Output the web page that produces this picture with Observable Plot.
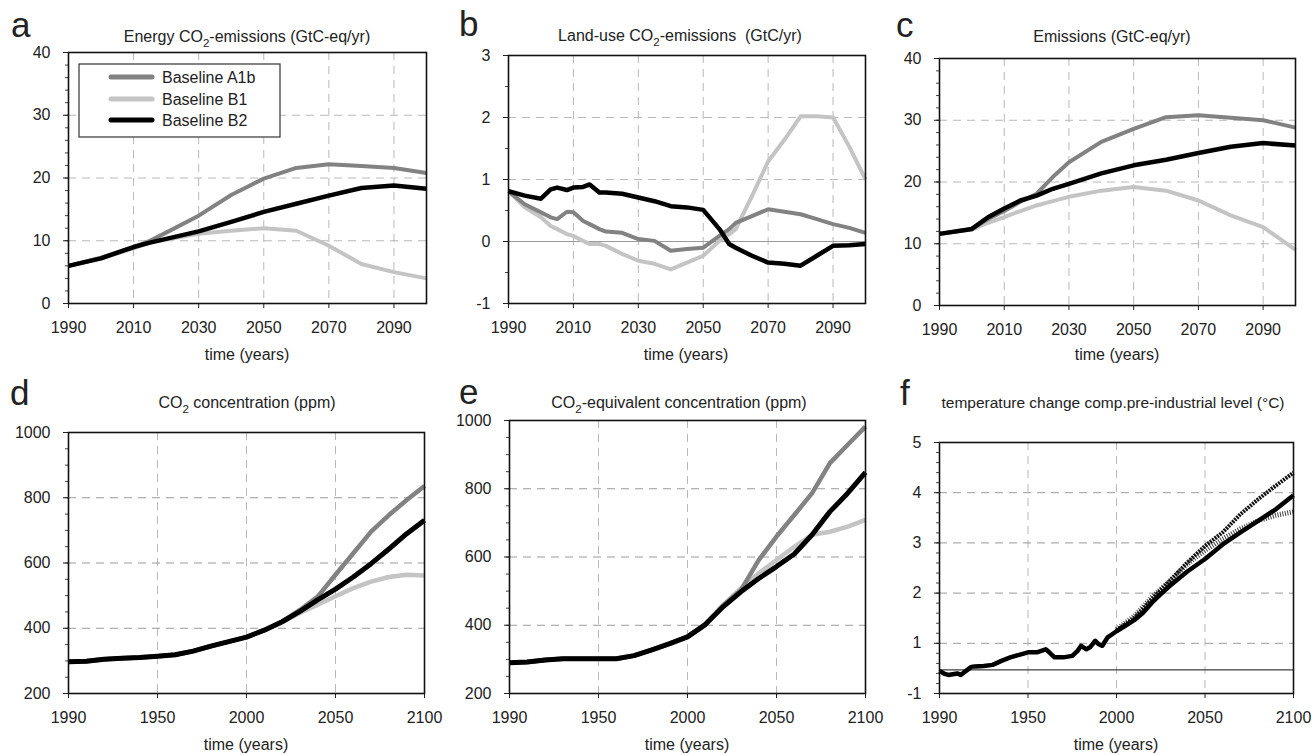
<!DOCTYPE html>
<html><head><meta charset="utf-8">
<script src="https://cdn.jsdelivr.net/npm/d3@7"></script>
<script src="https://cdn.jsdelivr.net/npm/@observablehq/plot@0.6"></script>
<style>
body{margin:0;background:#fff;}
#root{position:relative;width:1312px;height:755px;overflow:hidden;background:#fff;font-family:"Liberation Sans",Arial,sans-serif;}
#root svg.plot{position:absolute;}
#overlay{position:absolute;left:0;top:0;pointer-events:none;}
</style></head>
<body><div id="root"></div>
<script>
// ---------- data ----------
const seriesNames = ["Baseline A1b", "Baseline B1", "Baseline B2"];

// top-row x ticks
const xTicksTop = [1990, 2010, 2030, 2050, 2070, 2090];
const xLabelsTop = ["1990", "2010", "2030", "2050", "2070", "2090"];
// bottom-row x ticks (labels as printed)
const xTicksBottom = [1900, 1950, 2000, 2050, 2100];
const xLabelsBottom = ["1990", "1950", "2000", "2050", "2100"];

// panel a: Energy CO2 emissions
const yearsA = [1990, 2000, 2010, 2015, 2020, 2030, 2040, 2050, 2060, 2070, 2080, 2090, 2100];
const a_A1b = [6.0, 7.3, 9.0, 10.0, 11.3, 14.0, 17.3, 19.9, 21.6, 22.2, 21.9, 21.6, 20.8];
const a_B1  = [6.0, 7.2, 8.8, 9.7, 10.2, 11.1, 11.6, 12.0, 11.6, 9.2, 6.3, 5.0, 4.0];
const a_B2  = [6.0, 7.2, 9.0, 9.7, 10.3, 11.5, 13.0, 14.6, 15.9, 17.2, 18.4, 18.8, 18.3];
const yTicksA = [0, 10, 20, 30, 40];

// panel b: Land-use CO2 emissions
const yearsB = [1990,1995,2000,2003,2005,2008,2010,2013,2015,2018,2020,2025,2030,2035,2040,2045,2050,2055,2058,2060,2065,2070,2075,2080,2085,2090,2095,2100];
const b_A1b = [0.81,0.60,0.47,0.39,0.36,0.48,0.47,0.33,0.28,0.20,0.16,0.14,0.04,0.01,-0.15,-0.12,-0.10,0.09,0.20,0.30,0.41,0.52,0.48,0.44,0.36,0.28,0.22,0.14];
const b_B1  = [0.81,0.55,0.39,0.25,0.20,0.12,0.09,0.01,-0.04,-0.04,-0.07,-0.20,-0.31,-0.36,-0.45,-0.34,-0.23,0.01,0.12,0.20,0.73,1.29,1.64,2.02,2.02,2.00,1.53,1.00];
const b_B2  = [0.81,0.74,0.69,0.84,0.87,0.83,0.87,0.88,0.92,0.79,0.79,0.77,0.71,0.65,0.57,0.55,0.51,0.20,-0.04,-0.10,-0.23,-0.34,-0.36,-0.39,-0.23,-0.07,-0.06,-0.04];
const yTicksB = [-1, 0, 1, 2, 3];

// panel c: total emissions
const yearsC = [1990, 2000, 2005, 2010, 2015, 2020, 2025, 2030, 2040, 2050, 2060, 2070, 2080, 2090, 2100];
const c_A1b = [11.6, 12.4, 14.0, 15.3, 16.8, 18.1, 20.8, 23.2, 26.5, 28.6, 30.5, 30.8, 30.4, 30.0, 28.8];
const c_B1  = [11.6, 12.3, 13.4, 14.3, 15.3, 16.2, 16.9, 17.6, 18.6, 19.2, 18.6, 17.0, 14.6, 12.7, 9.0];
const c_B2  = [11.6, 12.4, 14.3, 15.7, 17.0, 17.8, 18.9, 19.7, 21.4, 22.7, 23.6, 24.7, 25.7, 26.3, 25.9];
const yTicksC = [0, 10, 20, 30, 40];

// panel d: CO2 concentration
const yearsD = [1900,1910,1920,1930,1940,1950,1960,1970,1980,1990,2000,2010,2020,2030,2040,2050,2060,2070,2080,2090,2100];
const d_A1b = [297,299,305,308,310,314,319,330,345,359,373,394,420,456,497,564,630,696,747,793,836];
const d_B1  = [297,299,305,308,310,314,319,330,345,359,373,394,418,447,472,498,523,543,557,564,562];
const d_B2  = [297,299,305,308,310,314,319,330,345,359,373,394,420,452,487,520,557,598,643,690,731];
const yTicksD = [200, 400, 600, 800, 1000];

// panel e: CO2-equivalent concentration
const yearsE = [1900,1910,1920,1930,1940,1950,1960,1970,1980,1990,2000,2010,2020,2030,2040,2050,2060,2070,2080,2090,2100];
const e_A1b = [290,292,298,302,302,302,302,311,328,346,366,402,458,503,591,660,723,787,875,929,982];
const e_B1  = [290,292,298,302,302,302,302,311,328,346,367,404,459,508,552,591,630,665,674,689,709];
const e_B2  = [290,292,298,302,302,302,302,311,328,346,366,402,454,498,537,572,609,665,733,787,848];
const yTicksE = [200, 400, 600, 800, 1000];

// panel f: temperature change (axis positions as printed)
const yearsF = [1900,1903,1905,1910,1912,1915,1918,1920,1925,1930,1935,1940,1945,1950,1955,1960,1962,1965,1970,1975,1978,1980,1983,1985,1988,1990,1992,1995,2000,2005,2010,2015,2020,2025,2030,2040,2050,2060,2070,2080,2090,2100];
const f_B2 = [0.45,0.39,0.37,0.40,0.37,0.45,0.53,0.54,0.55,0.57,0.65,0.72,0.77,0.82,0.82,0.88,0.82,0.72,0.72,0.75,0.85,0.95,0.88,0.92,1.05,0.98,0.95,1.12,1.24,1.35,1.46,1.61,1.81,1.98,2.14,2.43,2.68,2.97,3.21,3.44,3.67,3.95];
const yearsF2 = [2000, 2010, 2020, 2030, 2040, 2050, 2060, 2070, 2080, 2090, 2100];
const f_A1b = [1.26, 1.50, 1.88, 2.24, 2.61, 2.94, 3.21, 3.57, 3.87, 4.14, 4.40];
const f_B1  = [1.28, 1.54, 1.92, 2.24, 2.58, 2.85, 3.08, 3.28, 3.44, 3.55, 3.62];
const yTicksF = [0, 1, 2, 3, 4, 5];
const yLabelsF = ["-1", "1", "2", "3", "4", "5"];
const refLineF = [0.47];

// ---------- drawing ----------
const C_A1B = "#828282", C_B1 = "#c4c4c4", C_B2 = "#000000";
const root = document.getElementById("root");
const rows = (years, vals) => years.map((y, i) => ({year: y, value: vals[i]}));

function panel(cfg) {
  const mL = 70, mR = 24, mT = 14, mB = 44;
  const {x0, x1, y0, y1} = cfg;
  const w = (x1 - x0) + mL + mR, h = (y1 - y0) + mT + mB;
  const xl = new Map(cfg.xTicks.map((t, i) => [t, cfg.xLabels[i]]));
  const yl = new Map(cfg.yTicks.map((t, i) => [t, cfg.yLabels ? cfg.yLabels[i] : String(t)]));
  const gridY = cfg.yTicks.slice(1, -1).filter(t => !(cfg.skipGridY || []).includes(t));
  const gridX = cfg.xTicks.slice(1).filter(t => t < cfg.xDomain[1]);
  const chart = Plot.plot({
    width: w, height: h,
    marginLeft: mL, marginRight: mR, marginTop: mT, marginBottom: mB,
    style: {fontFamily: '"Liberation Sans", Arial, sans-serif', fontSize: "16px", color: "#222", background: "transparent", overflow: "visible"},
    x: {domain: cfg.xDomain, label: null},
    y: {domain: cfg.yDomain, label: null},
    marks: [
      Plot.ruleX(gridX, {stroke: "#b8b8b8", strokeWidth: 1, strokeDasharray: "8,6"}),
      Plot.ruleY(gridY, {stroke: cfg.gridYColor || "#b8b8b8", strokeWidth: 1, strokeDasharray: "8,6"}),
      ...(cfg.extra || []),
      ...cfg.lines.map(l => Plot.line(l.data, {x: "year", y: "value", stroke: l.color, strokeWidth: l.width || 4, strokeDasharray: l.dash, strokeLinejoin: "round", strokeLinecap: "butt"})),
      Plot.axisY(cfg.yMinor, {tickSize: 3, fill: "none", stroke: "#444", label: null}),
      Plot.axisY(cfg.yTicks, {tickSize: 5, tickPadding: 13, tickFormat: d => yl.get(d), stroke: "#222", label: null}),
      Plot.axisX(cfg.xTicks, {tickSize: 5, tickPadding: 13, tickFormat: d => xl.get(d), stroke: "#222", label: null}),
      Plot.frame({stroke: "#111", strokeWidth: 1.6})
    ]
  });
  chart.classList.add("plot");
  chart.style.left = (x0 - mL) + "px";
  chart.style.top = (y0 - mT) + "px";
  root.append(chart);
}

const std = (years, A, B, C, w = 4) => [
  {data: rows(years, B), color: C_B1, width: w},
  {data: rows(years, A), color: C_A1B, width: w},
  {data: rows(years, C), color: C_B2, width: w + 0.5}
];

panel({x0: 68, x1: 426, y0: 52, y1: 303, xDomain: [1990, 2100], yDomain: [0, 40],
  xTicks: xTicksTop, xLabels: xLabelsTop, yTicks: yTicksA, yMinor: d3.range(0, 40.01, 2),
  lines: std(yearsA, a_A1b, a_B1, a_B2)});

panel({x0: 508, x1: 865, y0: 55, y1: 303, xDomain: [1990, 2100], yDomain: [-1, 3],
  xTicks: xTicksTop, xLabels: xLabelsTop, yTicks: yTicksB, yMinor: d3.range(-1, 3.01, 0.5),
  skipGridY: [0],
  extra: [Plot.ruleY([0], {stroke: "#999", strokeWidth: 1.2})],
  lines: std(yearsB, b_A1b, b_B1, b_B2)});

panel({x0: 939, x1: 1295, y0: 58, y1: 305, xDomain: [1990, 2100], yDomain: [0, 40],
  xTicks: xTicksTop, xLabels: xLabelsTop, yTicks: yTicksC, yMinor: d3.range(0, 40.01, 2),
  lines: std(yearsC, c_A1b, c_B1, c_B2)});

panel({x0: 68, x1: 424, y0: 432, y1: 693, xDomain: [1900, 2100], yDomain: [200, 1000],
  xTicks: xTicksBottom, xLabels: xLabelsBottom, yTicks: yTicksD, yMinor: d3.range(200, 1000.1, 50),
  gridYColor: "#9a9a9a",
  lines: std(yearsD, d_A1b, d_B1, d_B2, 4.5)});

panel({x0: 509, x1: 865, y0: 420, y1: 693, xDomain: [1900, 2100], yDomain: [200, 1000],
  xTicks: xTicksBottom, xLabels: xLabelsBottom, yTicks: yTicksE, yMinor: d3.range(200, 1000.1, 50),
  gridYColor: "#9a9a9a",
  lines: std(yearsE, e_A1b, e_B1, e_B2, 4.5)});

panel({x0: 939, x1: 1293, y0: 442, y1: 693, xDomain: [1900, 2100], yDomain: [0, 5],
  xTicks: xTicksBottom, xLabels: xLabelsBottom, yTicks: yTicksF, yLabels: yLabelsF, yMinor: d3.range(0, 5.01, 0.2),
  gridYColor: "#9a9a9a",
  extra: [Plot.ruleY(refLineF, {stroke: "#111", strokeWidth: 1})],
  lines: [
    {data: rows(yearsF2, f_B1), color: "#444", width: 5, dash: "1,1.5"},
    {data: rows(yearsF2, f_A1b), color: "#111", width: 4, dash: "2,1"},
    {data: rows(yearsF, f_B2), color: C_B2, width: 4.5}
  ]});

// ---------- titles, letters, legend ----------
const NS = "http://www.w3.org/2000/svg";
const ov = document.createElementNS(NS, "svg");
ov.setAttribute("id", "overlay");
ov.setAttribute("width", 1312); ov.setAttribute("height", 755);
ov.setAttribute("font-family", '"Liberation Sans", Arial, sans-serif');
ov.setAttribute("fill", "#222");
root.append(ov);

function txt(x, y, parts, size, anchor = "middle") {
  const t = document.createElementNS(NS, "text");
  t.setAttribute("x", x); t.setAttribute("y", y);
  t.setAttribute("font-size", size); t.setAttribute("text-anchor", anchor);
  let shift = 0;
  parts.forEach(p => {
    const s = document.createElementNS(NS, "tspan");
    const sub = typeof p === "object";
    const target = sub ? 5 : 0;
    s.setAttribute("dy", target - shift); shift = target;
    if (sub) s.setAttribute("font-size", size * 0.72);
    s.textContent = sub ? p.sub : p;
    t.append(s);
  });
  ov.append(t);
}

const letters = [["a", 11, 37], ["b", 459, 36], ["c", 896, 37], ["d", 10, 405], ["e", 459, 404], ["f", 900, 405]];
letters.forEach(([l, x, y]) => txt(x, y, [l], 35, "start"));

txt(247, 42, ["Energy CO", {sub: "2"}, "-emissions (GtC-eq/yr)"], 16);
txt(680, 41, ["Land-use CO", {sub: "2"}, "-emissions\u00a0 (GtC/yr)"], 16);
txt(1112, 42, ["Emissions (GtC-eq/yr)"], 16);
txt(247, 408, ["CO", {sub: "2"}, " concentration (ppm)"], 16);
txt(679, 408, ["CO", {sub: "2"}, "-equivalent concentration (ppm)"], 16);
txt(1113, 408, ["temperature change comp.pre-industrial level (\u00b0C)"], 15.5);

[247, 686, 1117].forEach(x => txt(x, 360, ["time (years)"], 16));
[246, 687, 1116].forEach(x => txt(x, 750, ["time (years)"], 16));

// legend
const box = document.createElementNS(NS, "rect");
box.setAttribute("x", 79); box.setAttribute("y", 64); box.setAttribute("width", 201); box.setAttribute("height", 73);
box.setAttribute("fill", "#fff"); box.setAttribute("stroke", "#333"); box.setAttribute("stroke-width", 1.2);
ov.append(box);
const legColors = [C_A1B, C_B1, C_B2];
[77, 99, 120].forEach((y, i) => {
  const ln = document.createElementNS(NS, "line");
  ln.setAttribute("x1", 111); ln.setAttribute("x2", 152); ln.setAttribute("y1", y); ln.setAttribute("y2", y);
  ln.setAttribute("stroke", legColors[i]); ln.setAttribute("stroke-width", 5); ln.setAttribute("stroke-linecap", "round");
  ov.append(ln);
  txt(162, y + 6, [seriesNames[i]], 16, "start");
});
</script></body></html>
